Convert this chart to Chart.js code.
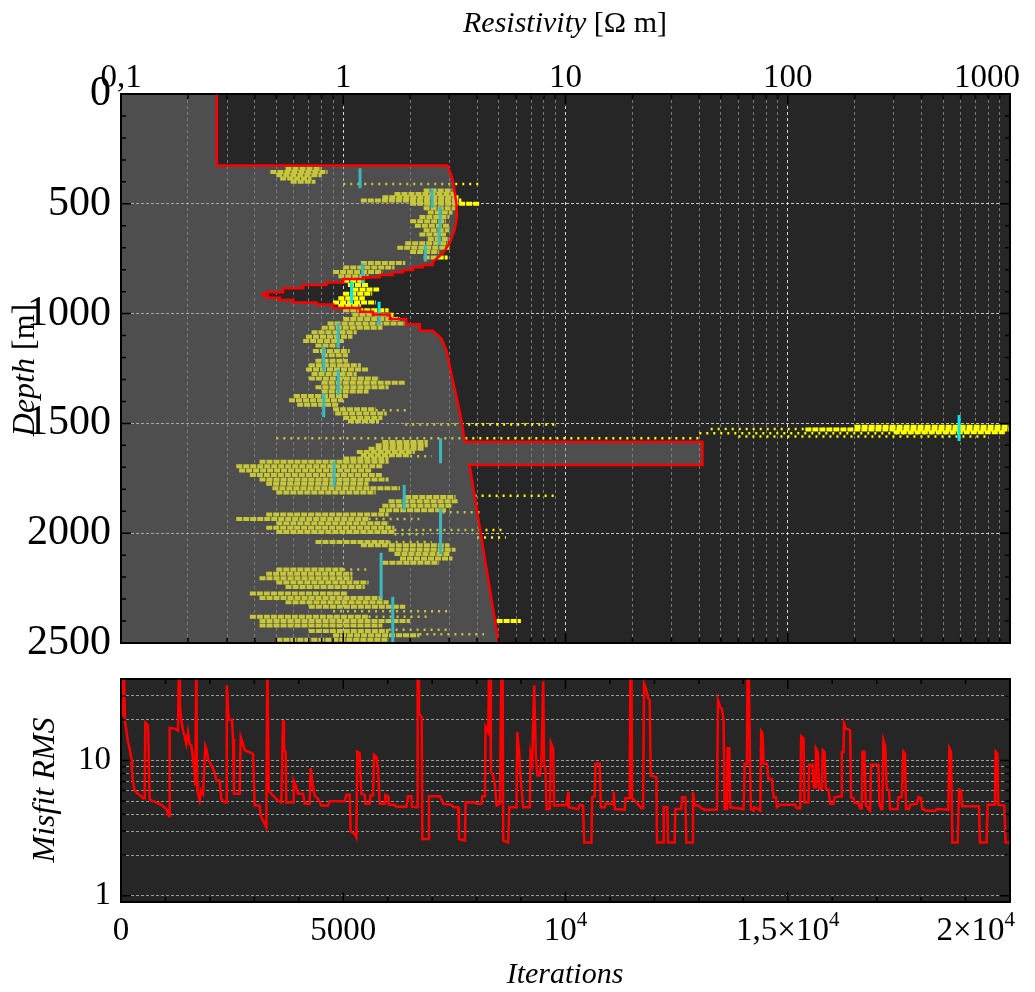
<!DOCTYPE html>
<html>
<head>
<meta charset="utf-8">
<script src="https://cdn.jsdelivr.net/npm/chart.js@4.4.1/dist/chart.umd.min.js"></script>
<style>
  body { margin: 0; background: #fff; }
  #wrap { position: relative; width: 1035px; height: 992px; }
  canvas { position: absolute; left: 0; }
  #profile { top: 0; }
  #misfit { top: 640px; }
</style>
</head>
<body>
<div id="wrap">
  <canvas id="profile" width="1035" height="680"></canvas>
  <canvas id="misfit" width="1035" height="352"></canvas>
</div>
<script>
// best model: resistivity (ohm m) down the hole, depth in m (layer steps written out)
const modelRes = [0.27, 0.27, 2.94, 3.02, 3.11, 3.23, 3.25, 3.17, 3.01, 2.81, 2.53,
  2.53, 2.28, 2.28, 2.06, 2.06, 1.86, 1.86, 1.67, 1.67, 1.46, 1.46, 1.23, 1.23, 1.00, 1.00, 0.84, 0.84, 0.66,
  0.66, 0.536, 0.536, 0.452, 0.452, 0.436, 0.436, 0.458, 0.458, 0.518, 0.518, 0.595, 0.595, 0.758, 0.758, 0.90,
  0.90, 1.19, 1.19, 1.36, 1.36, 1.62, 1.62, 1.92, 1.92, 2.21, 2.21, 2.53,
  2.76, 2.91, 3.06, 3.23, 3.40, 3.52, 41.3, 41.3, 3.70, 5.0];
const modelDepth = [0, 326, 326, 354, 392, 498, 559, 619, 680, 725, 764,
  779, 779, 789, 789, 802, 802, 812, 812, 824, 824, 835, 835, 842, 842, 858, 858, 870, 870,
  885, 885, 903, 903, 910, 910, 918, 918, 928, 928, 938, 938, 949, 949, 959, 959,
  975, 975, 992, 992, 1004, 1004, 1025, 1025, 1048, 1048, 1078, 1078,
  1112, 1166, 1272, 1378, 1484, 1583, 1583, 1689, 1689, 2500];

// sampled models, dense runs: [depth, res from, res to]
const denseRuns = [
  [340, 0.55, 0.80], [355, 0.47, 0.85], [370, 0.50, 0.80], [385, 0.52, 0.72], [400, 0.58, 0.75],
  [440, 2.3, 3.1], [455, 1.7, 3.2], [470, 1.5, 3.3], [485, 1.2, 3.4], [500, 2.0, 4.1],
  [520, 2.3, 3.2], [540, 2.4, 3.1], [560, 2.2, 3.0], [580, 2.0, 2.9], [600, 2.1, 3.0],
  [620, 2.3, 3.0], [640, 2.2, 2.9], [660, 2.4, 3.0], [680, 1.9, 2.95], [700, 1.75, 3.0],
  [720, 2.0, 2.7], [745, 2.3, 2.95], [770, 1.2, 1.9], [790, 1.0, 1.7], [810, 0.9, 1.5],
  [830, 0.95, 1.3], [850, 1.0, 1.25], [870, 1.05, 1.3], [890, 1.1, 1.45], [910, 1.0, 1.35],
  [930, 0.95, 1.25], [950, 0.9, 1.4], [965, 0.95, 1.2], [985, 1.0, 1.6], [1005, 1.1, 1.7],
  [1025, 1.0, 1.8], [1045, 0.85, 1.9], [1065, 0.8, 1.5], [1085, 0.72, 1.15], [1105, 0.68, 1.1],
  [1125, 0.66, 1.0], [1145, 0.75, 0.95], [1170, 0.73, 1.07], [1190, 0.8, 1.05], [1215, 0.75, 1.05],
  [1235, 0.7, 1.2], [1255, 0.68, 1.3], [1275, 0.72, 1.15], [1295, 0.7, 1.45], [1315, 0.8, 1.9],
  [1335, 0.75, 1.6], [1355, 0.8, 1.3], [1375, 0.6, 1.05], [1395, 0.57, 1.0], [1415, 0.62, 0.95],
  [1435, 0.9, 1.4], [1455, 0.92, 1.57], [1475, 1.0, 1.5], [1490, 1.05, 1.45],
  [1515, 200, 1000], [1528, 120, 1000], [1540, 300, 950],
  [1585, 1.5, 2.4], [1600, 1.4, 2.4], [1615, 1.3, 2.3], [1630, 1.15, 2.1], [1645, 1.2, 2.0],
  [1660, 1.0, 1.6], [1675, 0.42, 1.6], [1695, 0.33, 1.5], [1715, 0.34, 1.35], [1735, 0.38, 1.5],
  [1755, 0.42, 1.6], [1775, 0.45, 1.3], [1795, 0.48, 1.8], [1815, 0.5, 1.4], [1835, 1.9, 3.2],
  [1855, 1.6, 3.3], [1875, 1.5, 3.1], [1895, 1.45, 2.9], [1915, 0.45, 1.6], [1935, 0.33, 1.3],
  [1955, 0.5, 1.6], [1975, 0.45, 1.7], [1995, 0.5, 1.7], [2040, 0.75, 1.6], [2055, 1.2, 3.0],
  [2075, 1.6, 3.2], [2095, 1.7, 3.0], [2115, 1.8, 3.1], [2135, 1.5, 2.7], [2165, 0.5, 1.0],
  [2185, 0.45, 1.1], [2205, 0.42, 1.1], [2225, 0.5, 1.3], [2245, 0.55, 1.25], [2275, 0.38, 1.05],
  [2295, 0.42, 1.5], [2315, 0.55, 1.6], [2335, 0.7, 1.9], [2380, 0.38, 1.3], [2400, 0.42, 2.0],
  [2400, 4.9, 6.3], [2420, 0.42, 1.5], [2445, 0.7, 1.6], [2465, 0.9, 2.2], [2485, 0.5, 1.6]
];
// sampled models, scattered runs
const sparseRuns = [
  [410, 1.0, 4.1], [1440, 1.4, 2.0], [1505, 1.9, 9.0], [1525, 45, 200], [1545, 40, 600],
  [1560, 60, 800], [1568, 0.5, 40], [1650, 2.0, 2.5], [1830, 3.9, 9.0], [1905, 2.8, 4.1],
  [1935, 1.3, 2.2], [1985, 1.7, 5.2], [2005, 1.7, 2.3], [2020, 4.0, 5.4], [2040, 1.6, 2.5],
  [2165, 1.0, 1.3], [2355, 0.9, 3.0], [2380, 1.3, 2.5], [2440, 1.6, 3.0], [2460, 2.2, 4.3]
];
// layer markers: [res, top depth, bottom depth]
const markers = [
  [1.19, 338, 429], [2.51, 429, 520], [2.73, 513, 604], [2.70, 604, 688], [2.34, 688, 763],
  [1.22, 771, 862], [1.09, 855, 953], [1.45, 946, 1052], [0.95, 1043, 1158], [0.817, 1151, 1265],
  [0.95, 1254, 1371], [0.817, 1363, 1472], [590, 1462, 1580], [2.74, 1568, 1682], [0.91, 1674, 1788],
  [1.88, 1780, 1894], [2.74, 1887, 2095], [1.48, 2089, 2297], [1.67, 2289, 2500]
];

// misfit history: [iteration, rms]
const misfitTrace = [
  [0, 60], [30, 21], [60, 60], [90, 19.5], [157, 13.7], [195, 12.2], [232, 10.3], [247, 8.2], [270, 6.9], [307, 6.0],
  [382, 5.67], [457, 5.45], [495, 5.26], [532, 5.26], [547, 19.0], [607, 18.2], [645, 5.2], [682, 5.05], [795, 4.9], [907, 4.7],
  [1020, 4.38], [1057, 4.0], [1085, 3.87], [1095, 17.4], [1207, 17.2], [1282, 16.7], [1305, 60], [1327, 25.5], [1357, 19.8], [1395, 16.7],
  [1432, 14.9], [1470, 13.2], [1507, 16.2], [1545, 13.2], [1582, 12.9], [1620, 10.3], [1657, 8.2], [1672, 6.5], [1695, 60], [1710, 6.9],
  [1732, 5.67], [1770, 5.05], [1807, 6.0], [1845, 5.67], [1897, 12.8], [1920, 12.2], [1957, 10.3], [2032, 9.2], [2107, 8.2], [2145, 7.1],
  [2220, 7.1], [2257, 5.2], [2332, 4.9], [2370, 4.9], [2380, 36], [2422, 20], [2497, 20], [2520, 14.5], [2542, 5.67], [2670, 5.67],
  [2692, 14.9], [2745, 13.2], [2782, 11.9], [2895, 11.5], [2970, 11.2], [3007, 4.64], [3120, 4.64], [3142, 3.91], [3232, 3.4], [3270, 3.2],
  [3292, 60], [3300, 60], [3322, 6.0], [3382, 5.67], [3457, 5.35], [3532, 5.05], [3607, 4.9], [3645, 19.8], [3667, 12.2], [3705, 11.5],
  [3720, 4.9], [3870, 4.9], [3885, 7.1], [3945, 6.35], [3982, 5.67], [4095, 5.67], [4132, 4.78], [4245, 4.78], [4267, 8.8], [4305, 6.9],
  [4357, 5.5], [4432, 5.2], [4507, 4.64], [4657, 4.64], [4695, 5.0], [5032, 5.0], [5070, 5.57], [5145, 5.57], [5167, 2.98], [5257, 2.86],
  [5295, 2.7], [5317, 11.6], [5370, 11.3], [5407, 5.67], [5482, 5.57], [5497, 4.78], [5595, 4.78], [5610, 5.5], [5670, 5.5], [5692, 11.0],
  [5745, 10.6], [5782, 8.7], [5820, 4.78], [5932, 4.78], [5947, 5.57], [6007, 5.45], [6022, 4.7], [6157, 4.7], [6195, 4.56], [6420, 4.56],
  [6457, 5.45], [6532, 5.45], [6547, 4.56], [6660, 4.51], [6674, 60], [6689, 60], [6704, 22.2], [6764, 20.9], [6779, 2.63], [6914, 2.63],
  [6928, 5.45], [7176, 5.45], [7250, 4.78], [7438, 4.7], [7475, 4.51], [7588, 4.51], [7603, 2.63], [7737, 2.56], [7752, 4.9], [7962, 4.9],
  [8000, 4.78], [8112, 4.78], [8127, 5.45], [8187, 5.45], [8202, 17.7], [8262, 16.2], [8284, 60], [8307, 60], [8322, 8.2], [8374, 7.74],
  [8412, 6.53], [8449, 4.64], [8524, 4.78], [8561, 60], [8584, 60], [8599, 2.56], [8711, 2.48], [8734, 4.51], [8898, 4.51], [8913, 16.2],
  [8951, 12.3], [8996, 7.1], [9048, 4.51], [9198, 4.51], [9213, 11.2], [9250, 9.7], [9295, 35.9], [9333, 10.9], [9370, 7.74], [9423, 7.74],
  [9460, 10.6], [9498, 38.5], [9520, 9.2], [9550, 8.67], [9572, 4.38], [9647, 4.38], [9670, 13.5], [9722, 12.2], [9745, 4.64], [10022, 4.7],
  [10059, 5.83], [10074, 4.51], [10284, 4.38], [10321, 4.7], [10396, 4.64], [10419, 2.48], [10584, 2.48], [10599, 5.35], [10659, 5.45], [10674, 9.45],
  [10771, 9.45], [10793, 4.51], [10883, 4.51], [10898, 4.78], [11070, 4.78], [11085, 5.9], [11108, 4.38], [11333, 4.33], [11348, 5.26], [11445, 5.26],
  [11460, 60], [11482, 60], [11497, 5.26], [11595, 4.9], [11707, 4.44], [11745, 4.44], [11767, 37], [11820, 33], [11857, 28.7], [11894, 27.9],
  [11917, 7.74], [12044, 7.5], [12059, 2.48], [12194, 2.48], [12209, 4.51], [12291, 4.51], [12306, 2.48], [12456, 2.48], [12471, 4.38], [12606, 4.38],
  [12621, 5.35], [12696, 5.35], [12718, 2.48], [12853, 2.48], [12868, 5.83], [12906, 4.64], [12995, 4.64], [13055, 4.44], [13130, 4.33], [13407, 4.33],
  [13430, 27.9], [13482, 24.8], [13520, 24.1], [13557, 19.8], [13579, 4.38], [13632, 4.38], [13647, 12.3], [13684, 12.3], [13707, 4.51], [14006, 4.38],
  [14029, 9.45], [14081, 9.45], [14096, 60], [14119, 60], [14141, 16.2], [14171, 4.38], [14231, 4.26], [14254, 4.51], [14328, 4.38], [14381, 4.26],
  [14403, 16.4], [14433, 15.8], [14456, 9.45], [14531, 9.45], [14568, 7.31], [14643, 7.31], [14681, 5.35], [14733, 5.35], [14755, 4.51], [14830, 4.7],
  [15167, 4.7], [15205, 4.44], [15280, 4.44], [15302, 15.1], [15355, 14.5], [15377, 4.9], [15467, 4.9], [15482, 9.3], [15557, 9.3], [15587, 6.35],
  [15617, 6.35], [15632, 12.3], [15677, 11.5], [15707, 6.17], [15767, 6.17], [15789, 11.9], [15827, 11.5], [15856, 6.17], [15916, 6.1], [15954, 4.78],
  [16029, 4.78], [16051, 5.35], [16201, 5.45], [16216, 11.5], [16253, 11.6], [16268, 18.7], [16306, 17.2], [16366, 17.0], [16403, 16.7], [16426, 5.35],
  [16478, 5.26], [16501, 4.86], [16590, 4.86], [16628, 4.44], [16665, 4.44], [16680, 11.6], [16725, 11.6], [16755, 4.7], [16815, 4.38], [16853, 4.26],
  [16875, 9.3], [17040, 9.3], [17062, 4.78], [17100, 4.38], [17130, 4.38], [17152, 14.1], [17190, 12.8], [17227, 6.17], [17280, 6.0], [17302, 4.38],
  [17474, 4.38], [17489, 5.35], [17564, 5.35], [17602, 11.6], [17639, 11.2], [17661, 4.38], [17729, 4.38], [17751, 4.7], [17901, 4.78], [17939, 5.35],
  [17999, 5.26], [18029, 4.38], [18126, 4.26], [18313, 4.26], [18351, 4.38], [18613, 4.33], [18635, 12.3], [18673, 11.5], [18703, 2.48], [18823, 2.48],
  [18853, 6.1], [18897, 6.0], [18927, 4.59], [19302, 4.59], [19324, 2.48], [19474, 2.48], [19497, 4.7], [19661, 4.7], [19676, 11.6], [19714, 11.2],
  [19736, 4.7], [19871, 4.64], [19901, 2.48], [20020, 2.48]
];

// tick labels
const resLabelValues = [0.1, 1, 10, 100, 1000];
const resLabels = ['0,1', '1', '10', '100', '1000'];
const iterLabelValues = [0, 5000, 10000, 15000, 20000];
const iterLabelBase = ['0', '5000', '10', '1,5×10', '2×10'];
const iterLabelExp = ['', '', '4', '4', '4'];

const SERIF = '"Liberation Serif", "DejaVu Serif", serif';

// grid/tick positions
const resGrid = [];
[0.1, 1, 10, 100].forEach(d => { for (let k = 1; k < 10; k++) resGrid.push(d * k); });
resGrid.push(1000);
const depthGrid = [];
for (let d = 0; d <= 2500; d += 100) depthGrid.push(d);
const iterGrid = [];
for (let i = 0; i <= 20000; i += 1000) iterGrid.push(i);
const rmsGrid = [1, 2, 3, 4, 5, 6, 7, 8, 9, 10, 20, 30];

const isDecade = v => Math.abs(Math.log10(v) - Math.round(Math.log10(v))) < 1e-9;

// turn [depth, from, to] runs into one broken polyline
function runsToPoints(runs) {
  const pts = [];
  runs.forEach(([d, lo, hi]) => {
    pts.push({x: lo, y: d}, {x: hi, y: d}, {x: null, y: null});
  });
  return pts;
}

const modelPts = modelRes.map((r, i) => ({x: r, y: modelDepth[i]}));
const shadePts = modelPts.concat([{x: 0.1, y: 2500}, {x: 0.1, y: 0}]);
const markerPts = [];
markers.forEach(([r, top, bot]) => markerPts.push({x: r, y: top}, {x: r, y: bot}, {x: null, y: null}));

function drawRuns(ctx, runs, cx, y, size) {
  let w = 0;
  runs.forEach(([t, it]) => { ctx.font = `${it ? 'italic ' : ''}${size}px ${SERIF}`; w += ctx.measureText(t).width; });
  let x = cx - w / 2;
  ctx.textAlign = 'left';
  runs.forEach(([t, it]) => {
    ctx.font = `${it ? 'italic ' : ''}${size}px ${SERIF}`;
    ctx.fillText(t, x, y);
    x += ctx.measureText(t).width;
  });
}

// dark plot background, inward tick marks, black frame, and the text around each panel
function panelDecor(majorX, majorY, drawText) {
  return {
    id: 'panelDecor',
    beforeDraw(chart) {
      const {ctx, chartArea: a} = chart;
      ctx.save();
      ctx.fillStyle = '#262626';
      ctx.fillRect(a.left, a.top, a.width, a.height);
      ctx.restore();
    },
    afterDatasetsDraw(chart) {
      const {ctx, chartArea: a} = chart;
      ctx.save();
      ctx.strokeStyle = '#000';
      ctx.lineWidth = 1.5;
      ctx.beginPath();
      chart.scales.x.ticks.forEach(t => {
        const p = chart.scales.x.getPixelForValue(t.value);
        const len = majorX(t.value) ? 10 : 5;
        ctx.moveTo(p, a.top); ctx.lineTo(p, a.top + len);
        ctx.moveTo(p, a.bottom); ctx.lineTo(p, a.bottom - len);
      });
      chart.scales.y.ticks.forEach(t => {
        const p = chart.scales.y.getPixelForValue(t.value);
        const len = majorY(t.value) ? 10 : 5;
        ctx.moveTo(a.left, p); ctx.lineTo(a.left + len, p);
        ctx.moveTo(a.right, p); ctx.lineTo(a.right - len, p);
      });
      ctx.stroke();
      ctx.lineWidth = 2;
      ctx.strokeRect(a.left, a.top, a.width, a.height);
      ctx.restore();
    },
    afterDraw(chart) {
      const ctx = chart.ctx;
      ctx.save();
      ctx.fillStyle = '#000';
      ctx.textBaseline = 'alphabetic';
      drawText(chart, ctx);
      ctx.restore();
    }
  };
}

function profileText(chart, ctx) {
  const sx = chart.scales.x;
  ctx.font = `33px ${SERIF}`;
  ctx.textAlign = 'left';
  resLabelValues.forEach((v, i) => {
    const w = ctx.measureText(resLabels[i]).width;
    const x = Math.min(sx.getPixelForValue(v) - w / 2, 1020 - w);
    ctx.fillText(resLabels[i], x, 87);
  });
  drawRuns(ctx, [['Resistivity', true], [' [Ω m]', false]], 565, 32, 30);
  ctx.translate(34, 370);
  ctx.rotate(-Math.PI / 2);
  drawRuns(ctx, [['Depth', true], [' [m]', false]], 0, 0, 32);
}

function misfitText(chart, ctx) {
  const sx = chart.scales.x;
  ctx.textAlign = 'left';
  iterLabelValues.forEach((v, i) => {
    ctx.font = `33px ${SERIF}`;
    const wb = ctx.measureText(iterLabelBase[i]).width;
    ctx.font = `21px ${SERIF}`;
    const we = iterLabelExp[i] ? ctx.measureText(iterLabelExp[i]).width : 0;
    const x = Math.min(sx.getPixelForValue(v) - (wb + we) / 2, 1015 - wb - we);
    ctx.font = `33px ${SERIF}`;
    ctx.fillText(iterLabelBase[i], x, 300);
    if (iterLabelExp[i]) {
      ctx.font = `21px ${SERIF}`;
      ctx.fillText(iterLabelExp[i], x + wb, 286);
    }
  });
  drawRuns(ctx, [['Iterations', true]], 565, 343, 30);
  ctx.translate(54, 150);
  ctx.rotate(-Math.PI / 2);
  drawRuns(ctx, [['Misfit RMS', true]], 0, 0, 32);
}

new Chart(document.getElementById('profile'), {
  type: 'scatter',
  data: {
    datasets: [
      { label: 'model', data: modelPts, showLine: true, borderColor: '#ff0000', borderWidth: 2.5, pointRadius: 0, fill: false },
      { label: 'shade', data: shadePts, showLine: true, borderColor: 'rgba(0,0,0,0)', borderWidth: 1, pointRadius: 0,
        backgroundColor: 'rgba(128,128,128,0.45)', fill: 'shape' },
      { label: 'markers', data: markerPts, showLine: true, borderColor: '#00e8f4', borderWidth: 3, pointRadius: 0 },
      { label: 'samples', data: runsToPoints(denseRuns), showLine: true, borderColor: '#ffff00', borderWidth: 4,
        borderDash: [6, 1], pointRadius: 0 },
      { label: 'samples (sparse)', data: runsToPoints(sparseRuns), showLine: true, borderColor: '#ffff00', borderWidth: 2.5,
        borderDash: [2, 5], pointRadius: 0 }
    ]
  },
  options: {
    responsive: false,
    animation: false,
    layout: { padding: { left: 0, right: 25, top: 0, bottom: 37 } },
    plugins: { legend: { display: false }, tooltip: { enabled: false } },
    scales: {
      x: {
        type: 'logarithmic', position: 'top', min: 0.1, max: 1000,
        afterBuildTicks: s => { s.ticks = resGrid.map(v => ({value: v})); },
        afterFit: s => { s.height = 94; },
        ticks: { display: false },
        grid: { drawTicks: false, lineWidth: 1,
          color: c => isDecade(c.tick.value) ? 'rgba(235,235,235,0.9)' : 'rgba(150,150,150,0.75)' },
        border: { display: false, dash: [3, 3] }
      },
      y: {
        type: 'linear', reverse: true, min: 0, max: 2500,
        afterBuildTicks: s => { s.ticks = depthGrid.map(v => ({value: v})); },
        afterFit: s => { s.width = 121; },
        ticks: { autoSkip: false, padding: 10, color: '#000', font: { family: SERIF, size: 42 },
          callback: v => v % 500 === 0 ? String(v) : '' },
        grid: { drawTicks: false, lineWidth: 1,
          color: c => c.tick.value % 500 === 0 ? 'rgba(225,225,225,0.85)' : 'rgba(0,0,0,0)' },
        border: { display: false, dash: [3, 2] }
      }
    }
  },
  plugins: [panelDecor(isDecade, v => v % 500 === 0, profileText)]
});

new Chart(document.getElementById('misfit'), {
  type: 'scatter',
  data: {
    datasets: [
      { label: 'misfit', data: misfitTrace.map(([i, r]) => ({x: i, y: r})), showLine: true,
        borderColor: '#ff0000', borderWidth: 2.5, pointRadius: 0 }
    ]
  },
  options: {
    responsive: false,
    animation: false,
    layout: { padding: { left: 0, right: 25, top: 39, bottom: 0 } },
    plugins: { legend: { display: false }, tooltip: { enabled: false } },
    scales: {
      x: {
        type: 'linear', min: 0, max: 20000,
        afterBuildTicks: s => { s.ticks = iterGrid.map(v => ({value: v})); },
        afterFit: s => { s.height = 90; },
        ticks: { display: false },
        grid: { display: false },
        border: { display: false }
      },
      y: {
        type: 'logarithmic', min: 0.9, max: 40,
        afterBuildTicks: s => { s.ticks = rmsGrid.map(v => ({value: v})); },
        afterFit: s => { s.width = 121; },
        ticks: { autoSkip: false, padding: 10, color: '#000', font: { family: SERIF, size: 33 },
          callback: v => (v === 1 || v === 10) ? String(v) : '' },
        grid: { drawTicks: false, lineWidth: 1, color: 'rgba(175,175,175,0.85)' },
        border: { display: false, dash: [3, 2] }
      }
    }
  },
  plugins: [panelDecor(v => v % 5000 === 0, v => v === 1 || v === 10, misfitText)]
});
</script>
</body>
</html>
